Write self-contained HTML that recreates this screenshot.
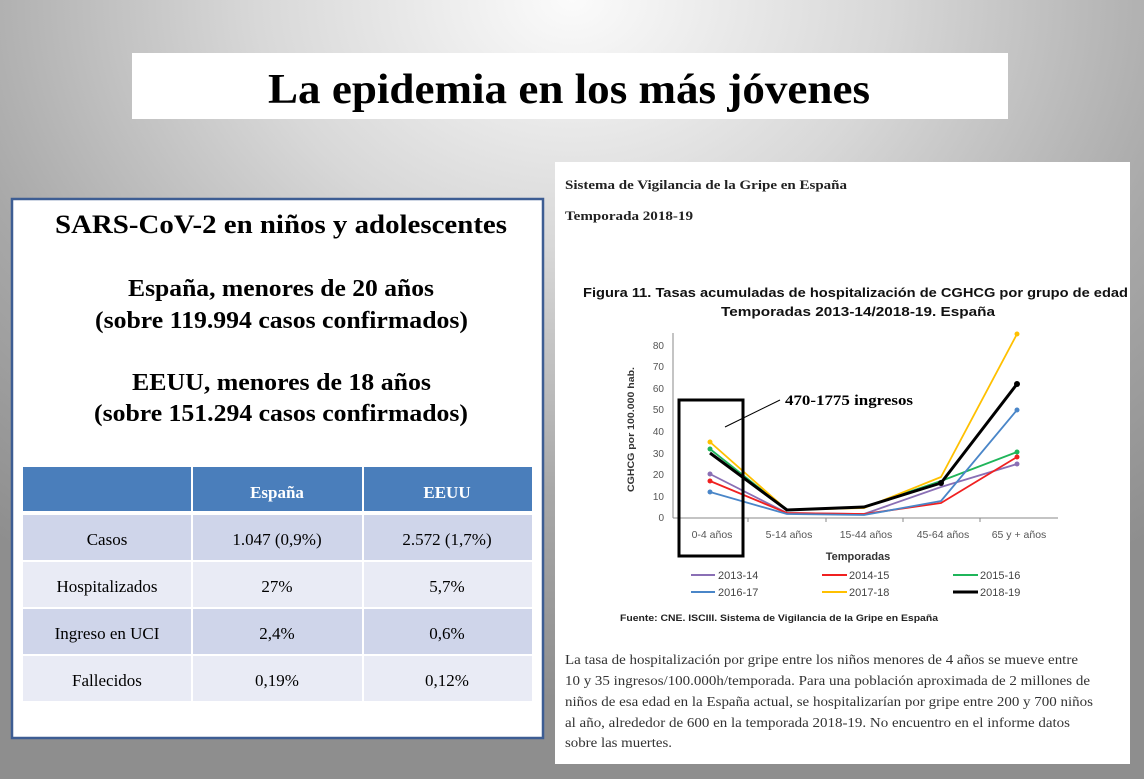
<!DOCTYPE html>
<html><head><meta charset="utf-8"><style>
html,body{margin:0;padding:0;width:1144px;height:779px;overflow:hidden}
body{background:radial-gradient(ellipse 900px 700px at 50% 0%, #fbfbfb 0%, #d8d8d8 35%, #a8a8a8 70%, #8e8e8e 100%)}
svg{position:absolute;left:0;top:0}
.s{font-family:"Liberation Serif",serif}
.a{font-family:"Liberation Sans",sans-serif}
</style></head><body>
<svg width="1144" height="779" viewBox="0 0 1144 779">
<rect x="132" y="53" width="876" height="66" fill="#fff"/>
<text class="s" x="268" y="103" font-size="42" font-weight="bold" textLength="602" lengthAdjust="spacingAndGlyphs">La epidemia en los más jóvenes</text>

<rect x="12" y="199" width="531" height="539" fill="#fff" stroke="#3d5d93" stroke-width="2.5"/>
<g class="s" font-weight="bold" fill="#000">
<text x="55" y="233" font-size="26" textLength="452" lengthAdjust="spacingAndGlyphs">SARS-CoV-2 en niños y adolescentes</text>
<text x="128" y="296" font-size="24" textLength="306" lengthAdjust="spacingAndGlyphs">España, menores de 20 años</text>
<text x="95" y="328" font-size="24" textLength="373" lengthAdjust="spacingAndGlyphs">(sobre 119.994 casos confirmados)</text>
<text x="132" y="390" font-size="24" textLength="299" lengthAdjust="spacingAndGlyphs">EEUU, menores de 18 años</text>
<text x="94" y="421" font-size="24" textLength="374" lengthAdjust="spacingAndGlyphs">(sobre 151.294 casos confirmados)</text>
</g>
<rect x="23" y="467" width="509" height="44" fill="#4a7ebb"/>
<rect x="23" y="515" width="509" height="45" fill="#cfd5ea"/>
<rect x="23" y="562" width="509" height="45" fill="#e9ebf5"/>
<rect x="23" y="609" width="509" height="45" fill="#cfd5ea"/>
<rect x="23" y="656" width="509" height="45" fill="#e9ebf5"/>
<line x1="192" y1="467" x2="192" y2="701" stroke="#fff" stroke-width="2"/>
<line x1="363" y1="467" x2="363" y2="701" stroke="#fff" stroke-width="2"/>
<g class="s" font-size="17" text-anchor="middle">
<text x="277" y="498" fill="#fff" font-weight="bold">España</text>
<text x="447" y="498" fill="#fff" font-weight="bold">EEUU</text>
<text x="107" y="545">Casos</text><text x="277" y="545">1.047 (0,9%)</text><text x="447" y="545">2.572 (1,7%)</text>
<text x="107" y="592">Hospitalizados</text><text x="277" y="592">27%</text><text x="447" y="592">5,7%</text>
<text x="107" y="639">Ingreso en UCI</text><text x="277" y="639">2,4%</text><text x="447" y="639">0,6%</text>
<text x="107" y="686">Fallecidos</text><text x="277" y="686">0,19%</text><text x="447" y="686">0,12%</text>
</g>

<rect x="555" y="162" width="575" height="602" fill="#fff"/>
<g class="s" font-weight="bold" font-size="12.5" fill="#222">
<text x="565" y="189" textLength="282" lengthAdjust="spacingAndGlyphs">Sistema de Vigilancia de la Gripe en España</text>
<text x="565" y="220" textLength="128" lengthAdjust="spacingAndGlyphs">Temporada 2018-19</text>
</g>
<g class="a" font-weight="bold" font-size="13" fill="#111">
<text x="583" y="297" textLength="545" lengthAdjust="spacingAndGlyphs">Figura 11. Tasas acumuladas de hospitalización de CGHCG por grupo de edad</text>
<text x="721" y="316" textLength="274" lengthAdjust="spacingAndGlyphs">Temporadas 2013-14/2018-19. España</text>
</g>
<!-- axes -->
<g stroke="#888" stroke-width="1">
<line x1="673" y1="333" x2="673" y2="518"/>
<line x1="673" y1="518" x2="1058" y2="518"/>
<line x1="748" y1="518" x2="748" y2="522"/><line x1="826" y1="518" x2="826" y2="522"/>
<line x1="903" y1="518" x2="903" y2="522"/><line x1="980" y1="518" x2="980" y2="522"/>
</g>
<g class="a" font-size="10" fill="#555" text-anchor="end">
<text x="664" y="521">0</text><text x="664" y="500">10</text><text x="664" y="478">20</text><text x="664" y="457">30</text><text x="664" y="435">40</text><text x="664" y="413">50</text><text x="664" y="392">60</text><text x="664" y="370">70</text><text x="664" y="349">80</text>
</g>
<text class="a" font-size="9" font-weight="bold" fill="#333" transform="translate(634,492) rotate(-90)" textLength="125" lengthAdjust="spacingAndGlyphs">CGHCG  por 100.000 hab.</text>
<g class="a" font-size="10.5" fill="#555" text-anchor="middle">
<text x="712" y="538">0-4 años</text><text x="789" y="538">5-14 años</text><text x="866" y="538">15-44 años</text><text x="943" y="538">45-64 años</text><text x="1019" y="538">65 y + años</text>
</g>
<text class="a" x="858" y="560" font-size="11" font-weight="bold" fill="#333" text-anchor="middle">Temporadas</text>
<g fill="none" stroke-width="1.8" stroke-linejoin="round">
<polyline stroke="#8a6fb5" points="710,474 787,513 864,514 941,487 1017,464"/>
<polyline stroke="#f02020" points="710,481 787,513 864,514 941,503 1017,457"/>
<polyline stroke="#1fb55a" points="710,449 787,510 864,507 941,481 1017,452"/>
<polyline stroke="#4a86c8" points="710,492 787,514 864,515 941,501 1017,410"/>
<polyline stroke="#ffc000" points="710,442 787,510 864,508 941,477 1017,334"/>
<polyline stroke="#000" stroke-width="3" points="710,453 787,510 864,507 941,483 1017,384"/>
</g>
<g>
<circle cx="1017" cy="464" r="2.5" fill="#8a6fb5"/><circle cx="710" cy="474" r="2.5" fill="#8a6fb5"/>
<circle cx="710" cy="481" r="2.5" fill="#f02020"/><circle cx="1017" cy="457" r="2.5" fill="#f02020"/>
<circle cx="710" cy="449" r="2.5" fill="#1fb55a"/><circle cx="1017" cy="452" r="2.5" fill="#1fb55a"/>
<circle cx="710" cy="492" r="2.5" fill="#4a86c8"/><circle cx="1017" cy="410" r="2.5" fill="#4a86c8"/>
<circle cx="710" cy="442" r="2.5" fill="#ffc000"/><circle cx="1017" cy="334" r="2.5" fill="#ffc000"/>
<circle cx="1017" cy="384" r="3" fill="#000"/><circle cx="941" cy="483" r="3" fill="#000"/>
</g>
<rect x="679" y="400" width="64" height="156" fill="none" stroke="#000" stroke-width="3"/>
<line x1="725" y1="427" x2="780" y2="400" stroke="#000" stroke-width="1"/>
<text class="s" x="785" y="405" font-size="15" font-weight="bold" textLength="128" lengthAdjust="spacingAndGlyphs">470-1775 ingresos</text>
<!-- legend -->
<g stroke-width="2">
<line x1="691" y1="575" x2="715" y2="575" stroke="#8a6fb5"/>
<line x1="822" y1="575" x2="847" y2="575" stroke="#f02020"/>
<line x1="953" y1="575" x2="978" y2="575" stroke="#1fb55a"/>
<line x1="691" y1="592" x2="715" y2="592" stroke="#4a86c8"/>
<line x1="822" y1="592" x2="847" y2="592" stroke="#ffc000"/>
<line x1="953" y1="592" x2="978" y2="592" stroke="#000" stroke-width="3"/>
</g>
<g class="a" font-size="11" fill="#444">
<text x="718" y="579">2013-14</text><text x="849" y="579">2014-15</text><text x="980" y="579">2015-16</text>
<text x="718" y="596">2016-17</text><text x="849" y="596">2017-18</text><text x="980" y="596">2018-19</text>
</g>
<text class="a" x="620" y="621" font-size="9.5" font-weight="bold" fill="#222" textLength="318" lengthAdjust="spacingAndGlyphs">Fuente: CNE. ISCIII.  Sistema de Vigilancia  de la Gripe en España</text>
<g class="s" font-size="13.5" fill="#333">
<text x="565" y="664" textLength="513" lengthAdjust="spacingAndGlyphs">La tasa de hospitalización por gripe entre los niños menores de 4 años se mueve entre</text>
<text x="565" y="685" textLength="525" lengthAdjust="spacingAndGlyphs">10 y 35 ingresos/100.000h/temporada. Para una población aproximada de 2 millones de</text>
<text x="565" y="706" textLength="528" lengthAdjust="spacingAndGlyphs">niños de esa edad en la España actual, se hospitalizarían por gripe entre 200 y 700 niños</text>
<text x="565" y="727" textLength="505" lengthAdjust="spacingAndGlyphs">al año, alrededor de 600 en la temporada 2018-19. No encuentro en el informe datos</text>
<text x="565" y="747" textLength="107" lengthAdjust="spacingAndGlyphs">sobre las muertes.</text>
</g>
</svg>
</body></html>
